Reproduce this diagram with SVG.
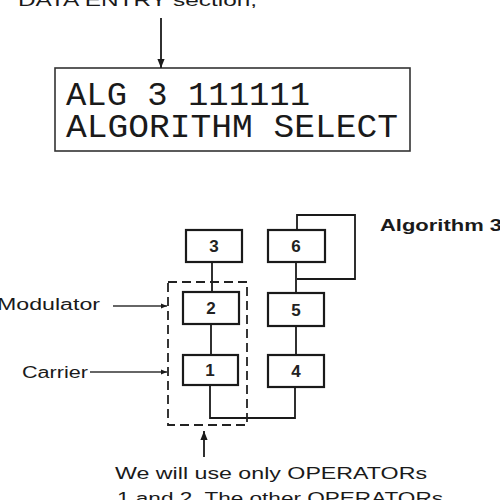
<svg xmlns="http://www.w3.org/2000/svg" width="500" height="500" viewBox="0 0 500 500">
<defs>
<style>
.box{fill:#fff;stroke:#1a1a1a;stroke-width:2.2}
.ln{fill:none;stroke:#1a1a1a;stroke-width:1.8}
.thin{fill:none;stroke:#333;stroke-width:1.3}
.dash{fill:none;stroke:#222;stroke-width:1.8;stroke-dasharray:9,5}
.num{font-family:"Liberation Sans",Arial,sans-serif;font-size:17px;font-weight:bold;fill:#222;text-anchor:middle}
.lbl{font-family:"Liberation Sans",Arial,sans-serif;font-size:16px;fill:#1a1a1a}
.lcd{font-family:"Liberation Mono","DejaVu Sans Mono",monospace;font-size:34px;fill:#1a1a1a}
</style>
<marker id="ah" viewBox="0 0 10 10" refX="10" refY="5" markerWidth="5" markerHeight="5" orient="auto">
<path d="M0,1 L10,5 L0,9 Z" fill="#1a1a1a"/>
</marker>
</defs>
<rect width="500" height="500" fill="#fff"/>
<text class="lbl" x="18" y="6" textLength="239" lengthAdjust="spacingAndGlyphs">DATA ENTRY section,</text>
<g id="lcd">
<rect x="55" y="68" width="355" height="83" fill="none" stroke="#333" stroke-width="1.6"/>
<text class="lcd" x="66" y="105" textLength="244" lengthAdjust="spacingAndGlyphs">ALG 3 111111</text>
<text class="lcd" x="66" y="137" textLength="332" lengthAdjust="spacingAndGlyphs">ALGORITHM SELECT</text>
</g>
<g id="connectors">
<line class="ln" x1="161" y1="18" x2="161" y2="68" marker-end="url(#ah)"/>
<line class="ln" x1="212" y1="262" x2="212" y2="292"/>
<line class="ln" x1="211" y1="324" x2="211" y2="355"/>
<line class="ln" x1="296" y1="262" x2="296" y2="293"/>
<line class="ln" x1="296" y1="326" x2="296" y2="355"/>
<polyline class="ln" points="297,230 297,215 355,215 355,279 297,279"/>
<polyline class="ln" points="210,385 210,418 295,418 295,387"/>
<line class="thin" x1="113" y1="306" x2="167" y2="306" marker-end="url(#ah)"/>
<line class="thin" x1="90" y1="372" x2="167" y2="372" marker-end="url(#ah)"/>
<line class="ln" x1="204" y1="457" x2="204" y2="431" marker-end="url(#ah)"/>
<rect class="dash" x="168" y="282" width="79" height="143"/>
</g>
<g id="op3"><rect class="box" x="186" y="230" width="56" height="32"/><text class="num" x="214" y="252">3</text></g>
<g id="op6"><rect class="box" x="268" y="230" width="57" height="32"/><text class="num" x="296" y="252">6</text></g>
<g id="op2"><rect class="box" x="183" y="292" width="56" height="32"/><text class="num" x="211" y="314">2</text></g>
<g id="op5"><rect class="box" x="268" y="293" width="56" height="33"/><text class="num" x="296" y="316">5</text></g>
<g id="op1"><rect class="box" x="183" y="355" width="55" height="30"/><text class="num" x="210" y="376">1</text></g>
<g id="op4"><rect class="box" x="268" y="355" width="56" height="32"/><text class="num" x="296" y="377">4</text></g>
<text class="lbl" x="380" y="231" font-weight="bold" textLength="122" lengthAdjust="spacingAndGlyphs">Algorithm 3</text>
<text class="lbl" x="-3" y="310" textLength="103" lengthAdjust="spacingAndGlyphs">Modulator</text>
<text class="lbl" x="22" y="378" textLength="66" lengthAdjust="spacingAndGlyphs">Carrier</text>
<text class="lbl" x="115" y="479" textLength="312" lengthAdjust="spacingAndGlyphs">We will use only OPERATORs</text>
<text class="lbl" x="117" y="504" textLength="326" lengthAdjust="spacingAndGlyphs">1 and 2. The other OPERATORs</text>
</svg>
